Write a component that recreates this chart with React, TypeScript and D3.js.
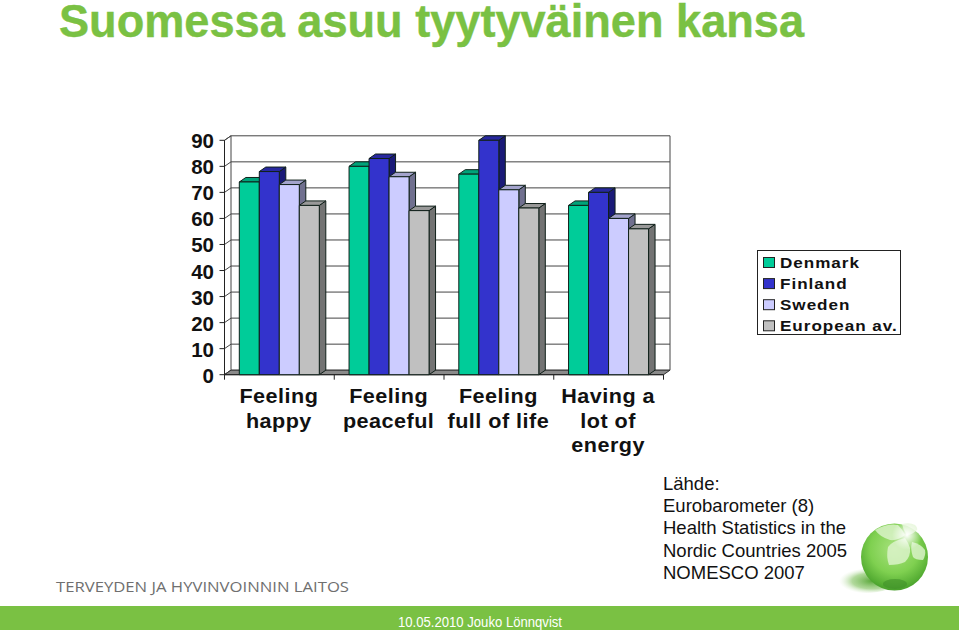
import React from "react";
import * as d3 from "d3";

const categories = [["Feeling", "happy"], ["Feeling", "peaceful"], ["Feeling", "full of life"], ["Having a", "lot of", "energy"]];
const seriesNames = ["Denmark", "Finland", "Sweden", "European av."];
const denmark = [74, 80, 77, 65];
const finland = [78, 83, 90, 70];
const sweden = [73, 76, 71, 60];
const european = [65, 63, 64, 56];
const seriesValues = [denmark, finland, sweden, european];
const yTicks = [0, 10, 20, 30, 40, 50, 60, 70, 80, 90];
const sourceLines = ["Lähde:", "Eurobarometer (8)", "Health Statistics in the", "Nordic Countries 2005", "NOMESCO 2007"];
const fronts = ["#00cc99", "#3333cc", "#ccccff", "#c0c0c0"];
const tops = ["#00a37a", "#28289f", "#a3a3cc", "#999999"];
const sides = ["#007a5c", "#1a1a78", "#70708f", "#737373"];

const GREEN = "#7ac143";
const FONT = "'Liberation Sans', Arial, sans-serif";
const DX = 6.5;
const DY = 4.5;

const y = d3.scaleLinear().domain([0, 90]).range([374.7, 140.3]);
const x0 = d3.scaleBand<number>().domain([0, 1, 2, 3]).range([224.5, 663.5]);
const barW = 20;
const groupInset = 14.8;
const px = (i: number, s: number) => (x0(i) as number) + groupInset + s * barW;

const poly = (pts: [number, number][]) => d3.line()(pts) + "Z";

export default function App() {
  const left = x0.range()[0];
  const right = x0.range()[1];
  const y0 = y(0);
  const yMax = y(90);
  return (
    <svg width={959} height={630} style={{ position: "absolute", left: 0, top: 0, background: "#fff" }} fontFamily={FONT}>
      <defs>
        <radialGradient id="ball" cx="0.5" cy="0.38" r="0.66">
          <stop offset="0" stopColor="#a8e27e" />
          <stop offset="0.55" stopColor="#7fd050" />
          <stop offset="0.85" stopColor="#55ad33" />
          <stop offset="1" stopColor="#3f9527" />
        </radialGradient>
        <radialGradient id="shadow" cx="0.6" cy="0.5" r="0.55">
          <stop offset="0" stopColor="#5aa83a" stopOpacity="1" />
          <stop offset="0.6" stopColor="#8fc870" stopOpacity="0.7" />
          <stop offset="1" stopColor="#d8eccb" stopOpacity="0" />
        </radialGradient>
        <radialGradient id="glow" cx="0.5" cy="0.5" r="0.5">
          <stop offset="0" stopColor="#ffffff" stopOpacity="1" />
          <stop offset="1" stopColor="#ffffff" stopOpacity="0" />
        </radialGradient>
      </defs>

      <text x={59} y={37} fontSize={45.5} fontWeight={700} fill={GREEN} stroke={GREEN} strokeWidth={0.4} textLength={745} lengthAdjust="spacingAndGlyphs">Suomessa asuu tyytyväinen kansa</text>

      <path d={poly([[left, y0], [left + DX, y0 - DY], [left + DX, yMax - DY], [left, yMax]])} fill="#fff" stroke="#444" strokeWidth={1} />
      {yTicks.map(t => (
        <g key={t}>
          <path d={`M${left + DX},${y(t) - DY}H${right + DX}`} stroke="#444" strokeWidth={1} fill="none" />
          <path d={`M${left},${y(t)}L${left + DX},${y(t) - DY}`} stroke="#444" strokeWidth={1} fill="none" />
          <path d={`M${left - 5},${y(t)}H${left}`} stroke="#222" strokeWidth={1} />
          <text x={214} y={y(t) + 8} fontSize={20.5} fontWeight={700} textAnchor="end" fill="#111">{t}</text>
        </g>
      ))}
      <path d={`M${right + DX},${yMax - DY}V${y0 - DY}`} stroke="#444" strokeWidth={1} />
      <path d={poly([[left, y0], [left + DX, y0 - DY], [right + DX, y0 - DY], [right, y0]])} fill="#8a8a8a" stroke="#333" strokeWidth={1} />
      <path d={`M${left},${yMax}V${y0}H${right}`} stroke="#222" strokeWidth={1} fill="none" />
      {[0, 1, 2, 3, 4].map(i => {
        const tx = left + i * x0.bandwidth();
        return <path key={i} d={`M${tx},${y0}v5`} stroke="#222" strokeWidth={1} />;
      })}

      {categories.map((_, i) =>
        seriesValues.map((vals, s) => {
          const bx = px(i, s);
          const by = y(vals[i]);
          return (
            <g key={`${i}-${s}`} stroke="#10201a" strokeWidth={1} strokeLinejoin="round">
              <path d={poly([[bx + barW, by], [bx + barW + DX, by - DY], [bx + barW + DX, y0 - DY], [bx + barW, y0]])} fill={sides[s]} />
              <path d={poly([[bx, by], [bx + DX, by - DY], [bx + barW + DX, by - DY], [bx + barW, by]])} fill={tops[s]} />
              <rect x={bx} y={by} width={barW} height={y0 - by} fill={fronts[s]} />
            </g>
          );
        })
      )}

      {categories.map((lines, i) =>
        lines.map((l, k) => (
          <text key={k} transform={`translate(${(x0(i) as number) + x0.bandwidth() / 2 - 0.5},${403 + k * 24.5}) scale(1.08,1)`} fontSize={20} fontWeight={700} letterSpacing={0.45} textAnchor="middle" fill="#111">{l}</text>
        ))
      )}

      <rect x={757.5} y={250.5} width={143} height={84} fill="#fff" stroke="#222" strokeWidth={1} />
      {seriesNames.map((n, s) => (
        <g key={n}>
          <rect x={763.5} y={257.5 + s * 21.1} width={11} height={10} fill={fronts[s]} stroke="#222" strokeWidth={1} />
          <text transform={`translate(780,${268 + s * 21.1}) scale(1.14,1)`} fontSize={15} fontWeight={700} letterSpacing={0.85} fill="#111">{n}</text>
        </g>
      ))}

      {sourceLines.map((l, k) => (
        <text key={k} x={663} y={490 + k * 22.2} fontSize={18.5} fill="#111">{l}</text>
      ))}

      <text x={56} y={592} fontFamily="'Open Sans', 'Noto Sans', sans-serif" fontSize={14.6} fill="#6f6f6f" textLength={293} lengthAdjust="spacingAndGlyphs">TERVEYDEN JA HYVINVOINNIN LAITOS</text>

      <ellipse cx={866} cy={581} rx={30} ry={12} fill="url(#shadow)" />
      <circle cx={894.5} cy={557} r={33.5} fill="url(#ball)" />
      <ellipse cx={895} cy={584} rx={12} ry={5} fill="#3f8f2a" opacity={0.6} />
      <g fill="#dff5cf" opacity={0.8}>
        <path d="M875,530 Q888,523 898,525 Q903,530 905,535 Q898,541 890,540 Q880,537 875,530Z" />
        <path d="M905,538 Q892,541 888,547 Q886,557 889,565 Q899,565 905,562 Q911,556 910,548 Q908,542 905,538Z" />
        <path d="M912,542 Q921,544 925,550 Q926,555 923,560 Q915,560 913,557 Q910,549 912,542Z" />
        <path d="M902,524 Q910,522 915,525 Q918,528 917,530 Q912,535 907,535 Q903,530 902,524Z" />
      </g>
      <circle cx={907} cy={535} r={15} fill="url(#glow)" />

      <rect x={0} y={606} width={959} height={24} fill={GREEN} />
      <text x={398} y={627} fontSize={14} fill="#ffffff" textLength={164} lengthAdjust="spacingAndGlyphs">10.05.2010 Jouko Lönnqvist</text>
    </svg>
  );
}
